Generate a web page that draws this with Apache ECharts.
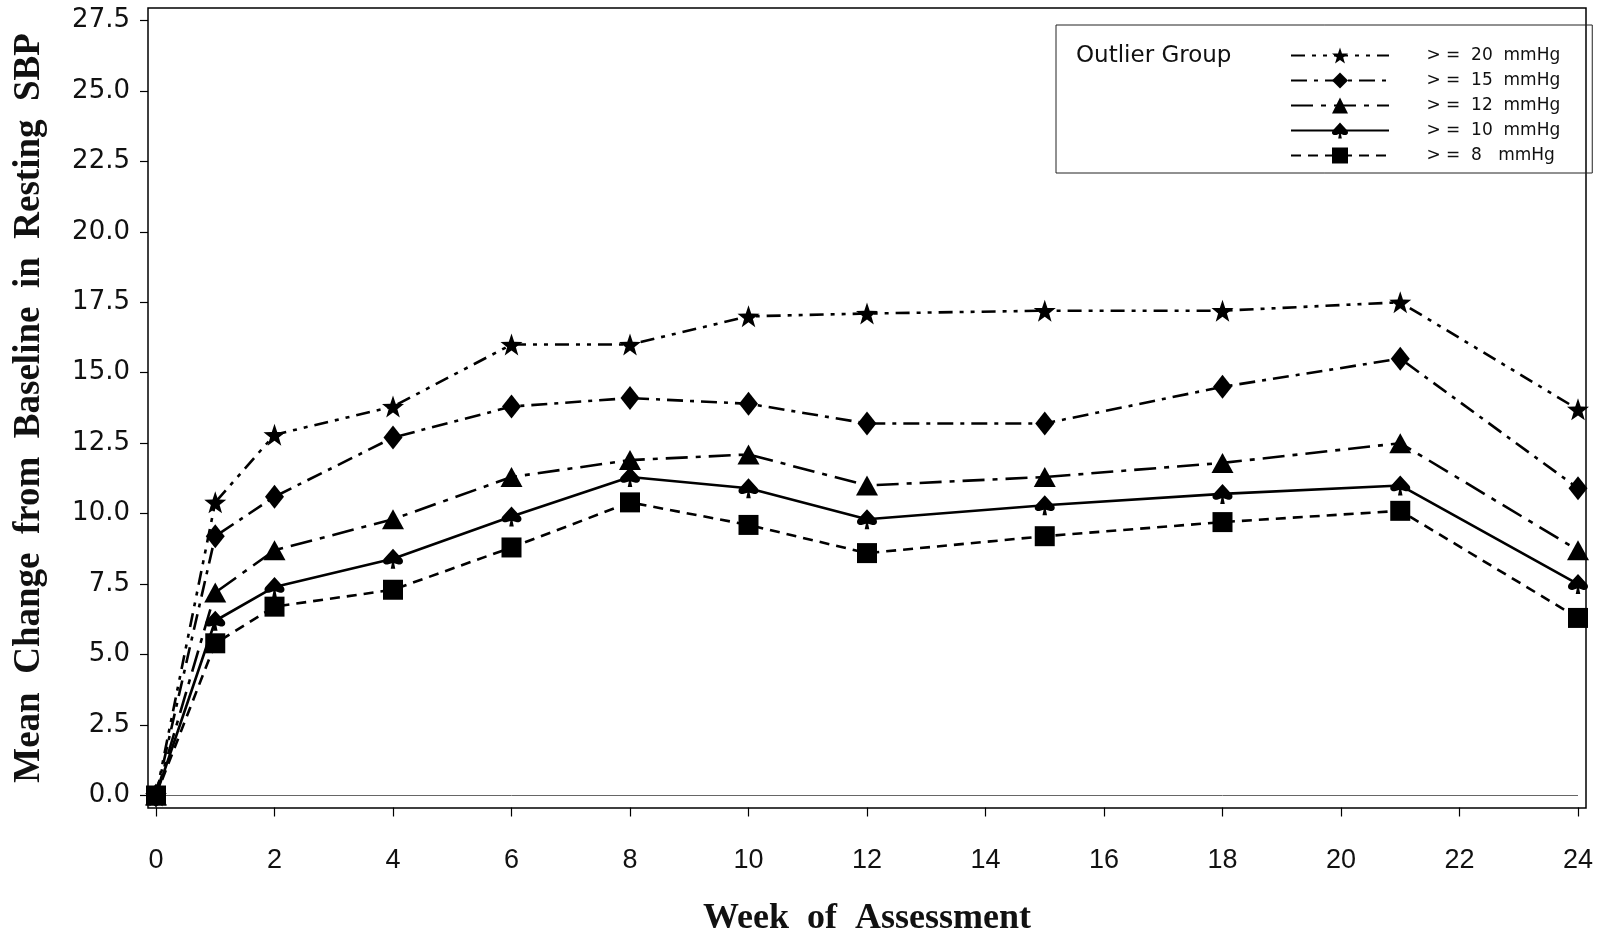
<!DOCTYPE html>
<html>
<head>
<meta charset="utf-8">
<script src="https://cdn.jsdelivr.net/npm/echarts@6/dist/echarts.min.js"></script>
<style>
  html, body { margin: 0; padding: 0; background: #fff; }
  #chart { width: 1597px; height: 933px; }
</style>
</head>
<body>
<div id="chart"></div>
<script>
// Weeks at which resting SBP was assessed
const weeks = [0, 1, 2, 4, 6, 8, 10, 12, 15, 18, 21, 24];

// Mean change from baseline (mmHg) per outlier group
const ge20 = [0, 10.4, 12.8, 13.8, 16.0, 16.0, 17.0, 17.1, 17.2, 17.2, 17.5, 13.7];
const ge15 = [0, 9.2, 10.6, 12.7, 13.8, 14.1, 13.9, 13.2, 13.2, 14.5, 15.5, 10.9];
const ge12 = [0, 7.2, 8.7, 9.8, 11.3, 11.9, 12.1, 11.0, 11.3, 11.8, 12.5, 8.7];
const ge10 = [0, 6.2, 7.4, 8.4, 9.9, 11.3, 10.9, 9.8, 10.3, 10.7, 11.0, 7.5];
const ge8  = [0, 5.4, 6.7, 7.3, 8.8, 10.4, 9.6, 8.6, 9.2, 9.7, 10.1, 6.3];

const groupNames = ['> =  20  mmHg', '> =  15  mmHg', '> =  12  mmHg', '> =  10  mmHg', '> =  8   mmHg'];

// Axis settings
const yMin = 0, yMax = 27.5, yStep = 2.5;
const xMin = 0, xMax = 24, xStep = 2;

const STAR = 'path://M0,-10 L2.35,-3.24 L9.51,-3.09 L3.8,1.24 L5.88,8.09 L0,4 L-5.88,8.09 L-3.8,1.24 L-9.51,-3.09 L-2.35,-3.24 Z';
const SPADE = 'path://M0,-10 L8,-1 C10,2 8,5 4,4 L1,3 L2,8 L-2,8 L-1,3 L-4,4 C-8,5 -10,2 -8,-1 Z';

function pairs(values) {
  return weeks.map((w, i) => [w, values[i]]);
}

const styles = [
  { data: ge20, symbol: STAR, size: 22, dash: [14, 7, 4, 7, 4, 7] },
  { data: ge15, symbol: 'diamond', size: [19, 24], dash: [16, 7, 4, 7] },
  { data: ge12, symbol: 'triangle', size: [22, 20], dash: [22, 8, 5, 8] },
  { data: ge10, symbol: SPADE, size: 20, dash: 'solid' },
  { data: ge8,  symbol: 'rect', size: 20, dash: [10, 7] }
];

const series = styles.map((s, i) => ({
  name: groupNames[i],
  type: 'line',
  xAxisIndex: 1,
  yAxisIndex: 1,
  data: pairs(s.data),
  symbol: s.symbol,
  symbolSize: s.size,
  clip: false,
  z: 3 + i,
  lineStyle: { color: '#000', width: 2.6, type: s.dash },
  itemStyle: { color: '#000' },
  emphasis: { disabled: true },
  animation: false
}));

// Reference line at zero change
series[0].markLine = {
  silent: true,
  symbol: 'none',
  label: { show: false },
  lineStyle: { color: '#666', width: 1, type: 'solid' },
  data: [{ yAxis: 0 }]
};

const chart = echarts.init(document.getElementById('chart'), null, { renderer: 'canvas' });

chart.setOption({
  backgroundColor: '#fff',
  animation: false,
  title: {
    text: 'Outlier Group',
    left: 1076,
    top: 45,
    padding: 0,
    textStyle: { fontFamily: 'DejaVu Sans', fontSize: 23, fontWeight: 'normal', color: '#111' }
  },
  legend: {
    orient: 'vertical',
    left: 1056,
    top: 25,
    padding: [22, 32, 9, 234],
    itemWidth: 98,
    itemHeight: 20,
    itemGap: 8,
    borderColor: '#222',
    borderWidth: 1,
    formatter: name => '      ' + name,
    textStyle: { fontFamily: 'DejaVu Sans', fontSize: 17, color: '#111' },
    data: groupNames
  },
  grid: [
    // outer frame
    { left: 148, right: 11, top: 8, bottom: 125, show: true, borderColor: '#000', borderWidth: 1.5, backgroundColor: 'transparent', outerBoundsMode: 'none' },
    // plotting area
    { left: 156, right: 19, top: 20.4, bottom: 137.5, outerBoundsMode: 'none' }
  ],
  xAxis: [
    { gridIndex: 0, type: 'value', show: false, min: 0, max: 1 },
    {
      gridIndex: 1,
      type: 'value',
      position: 'bottom',
      min: xMin, max: xMax, interval: xStep,
      offset: 12,
      axisLine: { show: false, onZero: false },
      axisTick: { show: true, inside: false, length: 9, lineStyle: { color: '#000', width: 1.2 } },
      axisLabel: {
        margin: 40,
        fontFamily: '"Liberation Sans Narrow", "Liberation Sans", sans-serif',
        fontSize: 27,
        color: '#111'
      },
      splitLine: { show: false },
      name: 'Week  of  Assessment',
      nameLocation: 'middle',
      nameGap: 93,
      nameTextStyle: { fontFamily: '"Liberation Serif", serif', fontWeight: 'bold', fontSize: 36, color: '#111' }
    }
  ],
  yAxis: [
    { gridIndex: 0, type: 'value', show: false, min: 0, max: 1 },
    {
      gridIndex: 1,
      type: 'value',
      position: 'left',
      min: yMin, max: yMax, interval: yStep,
      offset: 8,
      axisLine: { show: false, onZero: false },
      axisTick: { show: true, inside: false, length: 8, lineStyle: { color: '#000', width: 1.2 } },
      axisLabel: {
        margin: 18,
        formatter: v => v.toFixed(1),
        fontFamily: '"DejaVu Sans", sans-serif',
        fontSize: 26,
        color: '#111'
      },
      splitLine: { show: false },
      name: 'Mean  Change  from  Baseline  in  Resting  SBP',
      nameLocation: 'middle',
      nameGap: 100,
      nameTextStyle: { fontFamily: '"Liberation Serif", serif', fontWeight: 'bold', fontSize: 37, color: '#111' }
    }
  ],
  series: series
});
</script>
</body>
</html>
